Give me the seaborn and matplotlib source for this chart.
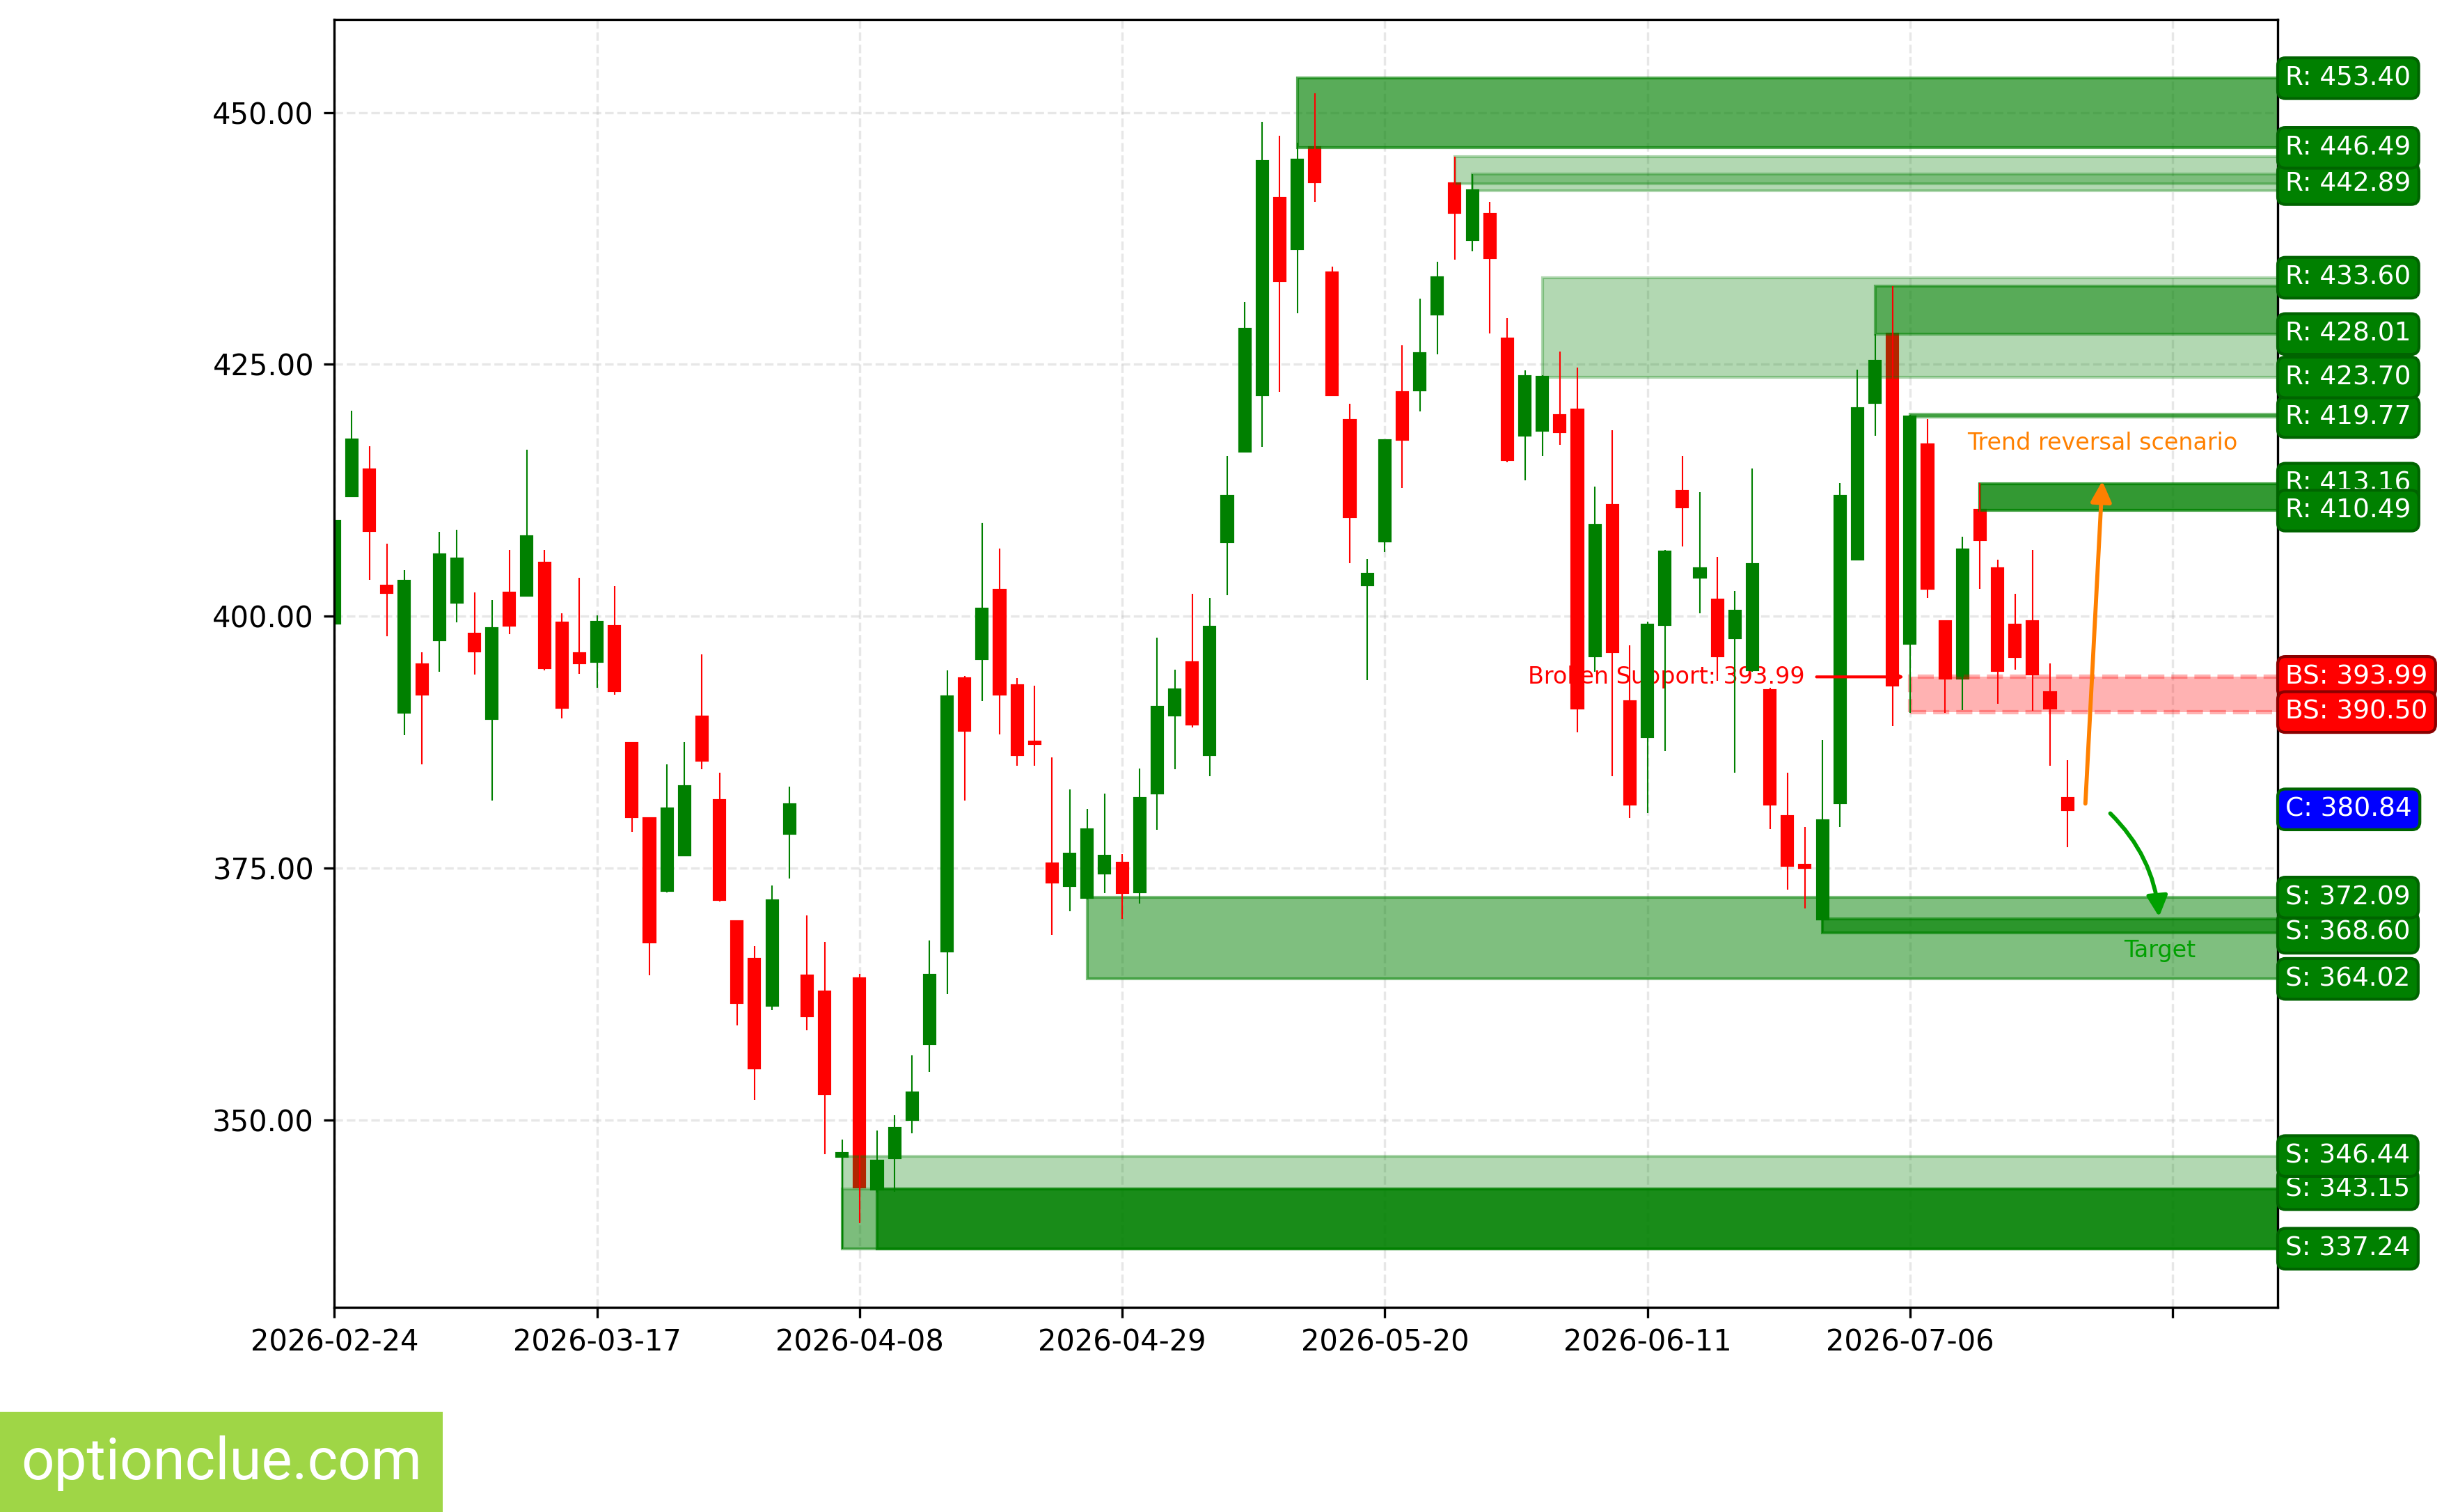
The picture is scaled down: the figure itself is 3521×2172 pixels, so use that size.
import numpy as np
import pandas as pd
import matplotlib
matplotlib.use("Agg")
import matplotlib.pyplot as plt
from matplotlib.patches import Rectangle
import seaborn as sns

# ---- price data ----
START_DATE = "2026-02-24"
HOLIDAYS = ["2026-04-03", "2026-05-25", "2026-06-19", "2026-07-03"]

OPEN = [399.3, 412.0, 414.5, 403.0, 390.5, 395.2, 397.7, 401.4, 398.2, 389.9,
        402.3, 402.1, 405.3, 399.3, 396.3, 395.5, 399.0, 387.4, 379.9, 372.8,
        376.3, 390.0, 381.7, 369.7, 366.0, 361.4, 378.5, 364.3, 362.7, 346.44,
        364.0, 343.2, 346.3, 350.1, 357.6, 366.8, 393.8, 395.8, 402.6, 393.1,
        387.5, 375.4, 373.3, 372.09, 374.5, 375.5, 372.7, 382.5, 390.2, 395.4,
        386.3, 407.4, 416.4, 422.0, 441.5, 436.5, 446.49, 434.1, 419.4, 403.1,
        407.5, 422.2, 422.5, 430.0, 442.89, 437.4, 439.9, 427.5, 418.0, 418.5,
        419.9, 420.5, 396.1, 411.0, 391.5, 388.1, 399.2, 412.4, 403.9, 401.6,
        397.9, 394.7, 392.6, 380.1, 375.3, 370.0, 381.5, 405.7, 421.2, 428.0,
        397.3, 417.0, 399.5, 393.9, 410.5, 404.7, 399.1, 399.5, 392.4, 381.9]
HIGH = [409.9, 420.4, 416.9, 407.2, 404.6, 396.4, 408.4, 408.6, 402.4, 401.6,
        406.6, 416.5, 406.6, 400.3, 403.8, 400.1, 403.0, 387.4, 379.9, 385.3,
        387.5, 396.2, 384.5, 369.8, 367.3, 373.3, 383.1, 370.3, 367.7, 348.1,
        364.5, 349.0, 350.5, 356.4, 367.8, 394.6, 394.1, 409.3, 406.7, 393.9,
        393.1, 386.0, 382.8, 380.9, 382.4, 376.4, 384.9, 397.9, 394.7, 402.2,
        401.8, 415.9, 431.2, 449.1, 447.7, 447.0, 451.9, 434.7, 421.1, 405.7,
        417.5, 426.9, 431.5, 435.2, 445.6, 443.9, 441.1, 429.6, 424.4, 423.9,
        426.3, 424.7, 412.9, 418.5, 397.1, 399.5, 406.6, 415.9, 412.3, 405.9,
        402.5, 414.7, 392.9, 384.5, 379.1, 387.7, 413.2, 424.5, 428.0, 432.8,
        420.0, 419.6, 399.6, 407.9, 413.2, 405.6, 402.2, 406.6, 395.3, 385.7]
LOW = [398.9, 412.0, 403.6, 398.0, 388.2, 385.3, 394.5, 399.4, 394.2, 381.7,
       398.2, 402.0, 394.6, 389.9, 394.3, 392.9, 392.2, 378.6, 364.4, 372.6,
       376.2, 384.8, 371.7, 359.4, 352.0, 360.9, 374.0, 358.9, 346.6, 337.24,
       339.8, 342.8, 342.9, 348.7, 354.8, 362.5, 381.7, 391.6, 388.3, 385.2,
       385.2, 368.4, 370.7, 371.9, 372.5, 370.0, 371.5, 378.8, 384.8, 389.0,
       384.1, 402.1, 416.4, 416.8, 422.3, 430.1, 441.1, 421.9, 405.3, 393.7,
       406.4, 412.7, 420.3, 426.0, 435.4, 436.2, 428.1, 415.3, 413.5, 415.9,
       417.0, 388.5, 394.5, 384.1, 380.0, 380.5, 386.6, 406.9, 400.3, 393.6,
       384.5, 394.5, 378.9, 372.9, 371.0, 368.6, 379.1, 405.7, 417.9, 389.1,
       390.4, 401.8, 390.4, 390.7, 402.7, 391.3, 394.7, 390.6, 385.2, 377.1]
CLOSE = [409.4, 417.5, 408.5, 402.4, 403.5, 392.3, 406.1, 405.7, 396.6, 398.8,
         399.1, 407.9, 394.9, 391.0, 395.4, 399.4, 392.6, 380.1, 367.7, 380.9,
         383.1, 385.7, 371.9, 361.7, 355.2, 371.8, 381.3, 360.4, 352.6, 346.7,
         343.4, 345.9, 349.2, 352.7, 364.4, 392.0, 388.7, 400.7, 392.3, 386.3,
         387.4, 373.6, 376.4, 378.8, 376.2, 372.6, 381.9, 391.0, 392.7, 389.3,
         398.9, 411.9, 428.5, 445.1, 433.3, 445.3, 443.1, 422.0, 409.9, 404.2,
         417.4, 417.6, 426.1, 433.6, 440.1, 442.2, 435.6, 415.6, 423.8, 423.7,
         418.3, 390.9, 409.0, 396.5, 381.4, 399.1, 406.4, 410.9, 404.7, 396.1,
         400.5, 405.1, 381.4, 375.3, 375.1, 379.7, 411.9, 420.6, 425.3, 393.2,
         419.8, 402.8, 393.9, 406.6, 407.6, 394.6, 396.0, 394.3, 390.9, 380.84]

# ---- support / resistance zones ----
ZONE_START = [29, 29, 31, 43, 85, 55, 64, 65, 69, 88, 90, 94, 90]
ZONE_LOW = [337.24, 337.24, 337.24, 364.02, 368.60, 446.49, 442.89, 442.20,
            423.70, 428.01, 419.77, 410.49, 390.50]
ZONE_HIGH = [346.44, 343.15, 343.15, 372.09, 370.00, 453.40, 445.60, 443.90,
             433.60, 432.80, 420.07, 413.16, 393.99]
ZONE_TYPE = ["weak", "weak", "major", "mid", "strong", "strong", "weak", "weak",
             "weak", "mid", "mid", "major", "broken"]

# ---- right-hand price tags (listed in drawing order) ----
TAG_KIND = ["R", "R", "R", "R", "R", "R", "R", "R", "R",
            "S", "S", "S", "S", "S", "S", "BS", "BS", "C"]
TAG_PRICE = [453.40, 442.89, 446.49, 433.60, 419.77, 423.70, 428.01, 413.16, 410.49,
             337.24, 343.15, 346.44, 364.02, 368.60, 372.09, 393.99, 390.50, 380.84]

BROKEN_LEVEL = 393.99
UP_TARGET = 413.16

n = len(OPEN)
dates = pd.bdate_range(START_DATE, periods=n, freq="C", holidays=HOLIDAYS)
df = pd.DataFrame({"x": np.arange(n), "open": OPEN, "high": HIGH,
                   "low": LOW, "close": CLOSE})
df["color"] = np.where(df["close"] >= df["open"], "green", "red")

sns.set_style("ticks", rc={"axes.edgecolor": "black", "xtick.color": "black",
                           "ytick.color": "black", "text.color": "black",
                           "axes.labelcolor": "black"})
plt.rcParams["font.family"] = ["DejaVu Sans"]

W, H = 3521, 2172
fig = plt.figure(figsize=(W / 300, H / 300), dpi=300)
ax = fig.add_axes([0.13641, 0.1354, 0.79287, 0.8516])

x_max = n + 11
y_lo = min(ZONE_LOW)
y_hi = max(ZONE_HIGH)
pad = 0.05 * (y_hi - y_lo)

# candles: bodies (patches) then wicks (lines, above zones)
body_bottom = np.minimum(df["open"], df["close"])
body_h = np.abs(df["close"] - df["open"])
ax.bar(df["x"], body_h, bottom=body_bottom, width=0.6, color=df["color"],
       edgecolor=df["color"], linewidth=1.0, zorder=1)
ax.vlines(df["x"], df["low"], df["high"], colors=df["color"], linewidth=0.5,
          zorder=2)

# zones, drawn over the candle bodies
zone_style = {
    "weak": dict(fc="green", ec="green", alpha=0.3, lw=1.0, ls="-"),
    "mid": dict(fc="green", ec="green", alpha=0.5, lw=1.0, ls="-"),
    "strong": dict(fc="green", ec="green", alpha=0.65, lw=1.0, ls="-"),
    "major": dict(fc="green", ec="green", alpha=0.8, lw=1.0, ls="-"),
    "broken": dict(fc="red", ec="red", alpha=0.3, lw=1.5, ls="--"),
}
for s, lo, hi, kind in zip(ZONE_START, ZONE_LOW, ZONE_HIGH, ZONE_TYPE):
    st = zone_style[kind]
    ax.add_patch(Rectangle((s, lo), x_max + 5 - s, hi - lo, facecolor=st["fc"],
                           edgecolor=st["ec"], alpha=st["alpha"],
                           linewidth=st["lw"], linestyle=st["ls"], zorder=1))

# broken support annotation
ax.text(84.0, BROKEN_LEVEL, f"Broken Support: {BROKEN_LEVEL:.2f}", color="red",
        fontsize=8, ha="right", va="center", zorder=0.9)
ax.annotate("", xy=(90, BROKEN_LEVEL), xytext=(84.66, BROKEN_LEVEL),
            arrowprops=dict(arrowstyle="->", color="red", lw=1.0, shrinkA=0),
            zorder=3)

# scenarios
ax.annotate("", xy=(101, UP_TARGET + 0.84), xytext=(100, CLOSE[-1]),
            arrowprops=dict(arrowstyle="-|>", color="#ff8000", lw=1.4,
                            mutation_scale=15), zorder=3)
ax.text(101, UP_TARGET + 4, "Trend reversal scenario", color="#ff8000",
        fontsize=8, ha="center", va="center")
ax.annotate("", xy=(104.25, 369.6), xytext=(101.2, CLOSE[-1]),
            arrowprops=dict(arrowstyle="-|>", color="#00a000", lw=1.4,
                            mutation_scale=15,
                            connectionstyle="arc3,rad=-0.2"), zorder=3)
ax.text(104.25, 366.8, "Target", color="#00a000", fontsize=8,
        ha="center", va="center")

# price tags on the right edge
tag_colors = {"R": ("green", "darkgreen"), "S": ("green", "darkgreen"),
              "BS": ("red", "darkred"), "C": ("blue", "darkgreen")}
for kind, price in zip(TAG_KIND, TAG_PRICE):
    fc, ec = tag_colors[kind]
    ax.annotate(f"{kind}: {price:.2f}", xy=(1.0, price),
                xycoords=("axes fraction", "data"), xytext=(2.7, 0),
                textcoords="offset points", ha="left", va="center",
                color="white", fontsize=9, annotation_clip=False,
                bbox=dict(boxstyle="round,pad=0.3", fc=fc, ec=ec, lw=1.0),
                zorder=4)

# axes
ax.set_xlim(0, x_max)
ax.set_ylim(y_lo - pad, y_hi + pad)
tick_pos = np.arange(0, x_max, 15)
ax.set_xticks(tick_pos)
ax.set_xticklabels([dates[i].strftime("%Y-%m-%d") if i < n else "" for i in tick_pos])
ax.set_yticks([350, 375, 400, 425, 450])
ax.set_yticklabels([f"{v:.2f}" for v in [350, 375, 400, 425, 450]])
ax.tick_params(labelsize=10, width=0.8, length=3.5)
for sp in ax.spines.values():
    sp.set_linewidth(0.8)
ax.grid(True, linestyle="--", color="#b0b0b0", alpha=0.3, linewidth=0.8)
ax.set_axisbelow(True)

# logo
fig.patches.append(Rectangle((0, 0), 636 / W, 144 / H, transform=fig.transFigure,
                             facecolor="#9fd646", edgecolor="none", zorder=5))
fig.text(318 / W, 70 / H, "optionclue.com", color="white", fontsize=20,
         family="Roboto", ha="center", va="center", zorder=6)

fig.savefig("out.png", dpi=300)
